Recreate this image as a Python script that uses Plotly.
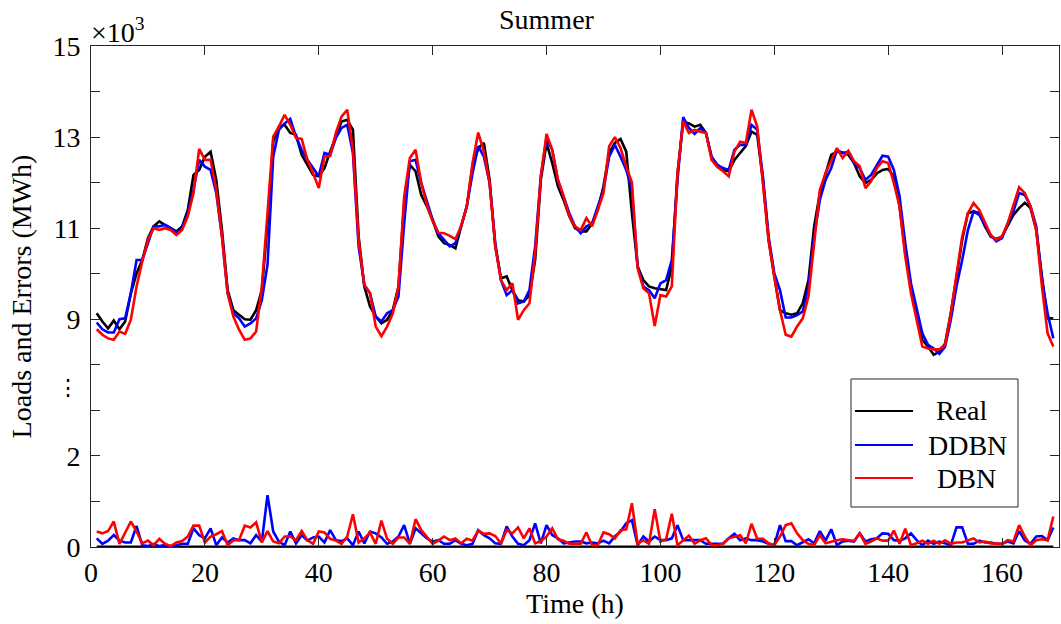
import plotly.graph_objects as go

# ---------------- data (thousands of MWh) ----------------
hours = list(range(1, 170))

real = [9.13, 8.95, 8.80, 8.97, 8.78, 8.95, 9.57, 10.01, 10.30, 10.78,
        11.04, 11.15, 11.07, 11.00, 10.93, 11.04, 11.40, 12.17, 12.28, 12.57,
        12.68, 12.06, 10.96, 9.64, 9.20, 9.10, 9.00, 8.99, 9.20, 9.64,
        11.10, 12.90, 13.23, 13.27, 13.09, 13.05, 12.61, 12.39, 12.17, 12.14,
        12.32, 12.68, 13.01, 13.34, 13.38, 13.16, 10.82, 9.72, 9.28, 9.06,
        8.91, 8.99, 9.20, 9.72, 11.55, 12.39, 12.25, 11.73, 11.48, 11.18,
        10.82, 10.67, 10.63, 10.56, 11.04, 11.48, 12.35, 12.76, 12.87, 12.06,
        10.60, 9.90, 9.94, 9.64, 9.42, 9.39, 9.53, 10.30, 12.06, 12.87,
        12.43, 11.92, 11.62, 11.26, 11.00, 10.93, 10.93, 11.10, 11.40, 11.92,
        12.65, 12.87, 12.96, 12.68, 11.33, 10.16, 9.86, 9.72, 9.68, 9.66,
        9.64, 10.16, 12.20, 13.34, 13.30, 13.23, 13.27, 13.09, 12.54, 12.39,
        12.28, 12.25, 12.50, 12.65, 12.80, 13.12, 13.05, 12.06, 10.74, 9.94,
        9.20, 9.13, 9.10, 9.13, 9.35, 9.86, 11.04, 11.77, 12.20, 12.61,
        12.68, 12.66, 12.61, 12.43, 12.14, 11.99, 12.06, 12.20, 12.28, 12.30,
        12.14, 11.48, 10.45, 9.72, 9.13, 8.55, 8.40, 8.22, 8.29, 8.47,
        9.13, 9.94, 10.74, 11.33, 11.37, 11.33, 11.04, 10.82, 10.76, 10.82,
        11.04, 11.29, 11.44, 11.56, 11.44, 10.96, 9.94, 9.02, 9.02]

ddbn = [8.93, 8.78, 8.71, 8.71, 9.00, 9.02, 9.57, 10.30, 10.30, 10.67,
        11.04, 11.04, 11.07, 11.00, 10.89, 11.00, 11.33, 11.84, 12.50, 12.35,
        12.28, 11.77, 10.82, 9.57, 9.13, 9.02, 8.84, 8.91, 9.02, 9.42,
        10.20, 12.57, 13.16, 13.30, 13.40, 13.01, 12.72, 12.50, 12.32, 12.14,
        12.65, 12.61, 12.98, 13.20, 13.27, 12.65, 10.60, 9.75, 9.57, 9.06,
        8.95, 9.13, 9.20, 9.50, 11.10, 12.47, 12.50, 11.99, 11.59, 11.18,
        10.89, 10.74, 10.60, 10.67, 11.04, 11.48, 12.20, 12.80, 12.57, 11.99,
        10.67, 9.86, 9.53, 9.64, 9.35, 9.39, 9.64, 10.60, 12.14, 12.98,
        12.72, 12.06, 11.70, 11.33, 11.04, 10.89, 11.04, 11.10, 11.48, 11.84,
        12.57, 12.83, 12.57, 12.28, 11.84, 10.16, 9.72, 9.64, 9.46, 9.79,
        9.86, 10.30, 12.06, 13.44, 13.20, 13.07, 13.20, 13.09, 12.57, 12.39,
        12.32, 12.28, 12.72, 12.83, 12.83, 13.27, 13.16, 12.14, 10.82, 10.01,
        9.64, 9.04, 9.04, 9.09, 9.17, 9.72, 10.82, 11.62, 12.06, 12.32,
        12.72, 12.65, 12.68, 12.43, 12.32, 12.06, 12.17, 12.39, 12.59, 12.57,
        12.28, 11.70, 10.67, 9.79, 9.20, 8.69, 8.44, 8.36, 8.24, 8.40,
        8.99, 9.72, 10.30, 10.96, 11.37, 11.29, 11.07, 10.85, 10.71, 10.78,
        11.11, 11.37, 11.77, 11.73, 11.48, 11.04, 9.86, 9.13, 8.58]

dbn = [8.78, 8.66, 8.58, 8.55, 8.73, 8.68, 8.99, 9.72, 10.27, 10.74,
       11.00, 10.96, 11.00, 10.96, 10.85, 10.96, 11.26, 11.77, 12.74, 12.50,
       12.50, 11.84, 10.82, 9.57, 9.06, 8.77, 8.55, 8.58, 8.73, 9.72,
       11.33, 13.01, 13.23, 13.49, 13.27, 12.98, 12.96, 12.50, 12.21, 11.88,
       12.57, 12.59, 13.09, 13.45, 13.60, 12.72, 10.74, 9.75, 9.57, 8.84,
       8.63, 8.84, 9.13, 9.72, 11.70, 12.54, 12.72, 11.99, 11.51, 11.15,
       10.90, 10.89, 10.83, 10.76, 11.04, 11.48, 12.43, 13.10, 12.68, 11.99,
       10.60, 9.86, 9.64, 9.79, 8.99, 9.20, 9.35, 10.45, 12.14, 13.07,
       12.72, 12.06, 11.70, 11.26, 11.04, 10.96, 11.22, 11.04, 11.40, 11.77,
       12.80, 13.00, 12.76, 12.35, 12.00, 10.12, 9.68, 9.57, 8.85, 9.53,
       9.50, 9.72, 12.20, 13.35, 13.09, 13.16, 13.12, 13.09, 12.50, 12.34,
       12.25, 12.14, 12.68, 12.90, 12.87, 13.60, 13.23, 11.92, 10.74, 9.94,
       9.20, 8.66, 8.62, 8.84, 9.02, 9.50, 10.74, 11.84, 12.21, 12.50,
       12.76, 12.54, 12.70, 12.47, 12.36, 11.88, 12.03, 12.32, 12.47, 12.43,
       11.99, 11.48, 10.38, 9.57, 8.99, 8.40, 8.36, 8.34, 8.34, 8.44,
       9.13, 9.94, 10.82, 11.33, 11.55, 11.40, 11.11, 10.85, 10.74, 10.82,
       11.11, 11.48, 11.90, 11.77, 11.48, 10.96, 9.72, 8.69, 8.40]

err_real = [0.0] * 169

err_ddbn = [.19, .07, .14, .26, .14, .10, .10, .46, .04, .02,
            .07, .02, .04, .02, .04, .07, .07, .41, .26, .19,
            .41, .04, .21, .10, .19, .15, .15, .08, .26, .12,
            1.14, .34, .12, .04, .34, .08, .26, .14, .21, .23,
            .10, .37, .15, .13, .19, .04, .34, .08, .34, .30,
            .21, .07, .12, .23, .48, .07, .41, .30, .19, .12,
            .15, .07, .07, .15, .07, .04, .07, .37, .26, .19,
            .08, .07, .45, .23, .07, .04, .15, .52, .08, .48,
            .26, .19, .08, .10, .12, .12, .08, .10, .08, .14,
            .08, .23, .34, .52, .59, .04, .23, .12, .23, .15,
            .15, .19, .48, .15, .15, .14, .15, .07, .07, .07,
            .07, .19, .29, .15, .19, .15, .15, .12, .07, .04,
            .48, .13, .13, .04, .10, .17, .08, .35, .14, .39,
            .04, .12, .14, .12, .30, .12, .17, .19, .30, .29,
            .15, .14, .19, .30, .15, .04, .14, .07, .12, .08,
            .04, .43, .43, .07, .07, .14, .10, .10, .07, .07,
            .12, .08, .35, .14, .07, .23, .24, .15, .43]

err_dbn = [.34, .30, .35, .56, .07, .30, .56, .34, .08, .14,
           .04, .18, .07, .02, .10, .13, .23, .47, .47, .10,
           .23, .28, .35, .04, .15, .15, .47, .43, .54, .10,
           .35, .12, .08, .23, .23, .15, .35, .15, .07, .34,
           .32, .18, .14, .07, .23, .72, .10, .19, .32, .07,
           .58, .18, .07, .21, .21, .07, .61, .37, .21, .07,
           .14, .23, .15, .19, .08, .18, .14, .36, .29, .30,
           .24, .08, .37, .30, .43, .19, .41, .08, .13, .23,
           .41, .17, .14, .07, .07, .07, .32, .04, .04, .32,
           .28, .19, .37, .39, .96, .07, .15, .07, .83, .12,
           .17, .73, .04, .15, .25, .07, .15, .19, .04, .04,
           .07, .19, .23, .26, .08, .51, .18, .18, .08, .04,
           .23, .48, .52, .30, .15, .07, .04, .26, .08, .12,
           .15, .17, .15, .13, .30, .07, .12, .19, .14, .14,
           .36, .07, .40, .04, .08, .14, .07, .14, .07, .15,
           .07, .10, .10, .15, .19, .10, .12, .08, .07, .07,
           .15, .12, .48, .23, .04, .15, .17, .15, .67]

series_names = ["Real", "DDBN", "DBN"]
series_colors = ["#000000", "#0000FF", "#FF0000"]
x_ticks = [0, 20, 40, 60, 80, 100, 120, 140, 160]
# broken y axis: 0..2 shown as is, 9..15 shifted down by GAP
GAP = 4
y_tick_pos = list(range(0, 12))
y_tick_text = ["0", "", "2", "", "", "9", "", "11", "", "13", "", "15"]


def upper(vals):
    return [v - GAP for v in vals]


FONT = "Liberation Serif"
FS = 28
fig = go.Figure()

loads = [real, ddbn, dbn]
errs = [err_real, err_ddbn, err_dbn]
for name, col, vals in zip(series_names, series_colors, loads):
    fig.add_trace(go.Scatter(x=hours, y=upper(vals), mode="lines", name=name,
                             line=dict(color=col, width=2.6), showlegend=False))
for name, col, vals in zip(series_names, series_colors, errs):
    fig.add_trace(go.Scatter(x=hours, y=vals, mode="lines", name=name + " error",
                             line=dict(color=col, width=2.6 if name != "Real" else 3.2),
                             showlegend=False))

# plot area in pixels
L, R, T, B = 91, 1059, 46, 547
W, H = R - L, B - T


def px(x):
    return (x - L) / W


def py(y):
    return (B - y) / H


axis_common = dict(showline=True, linecolor="#262626", linewidth=1, mirror="ticks",
                   ticks="inside", ticklen=9, tickcolor="#262626", showgrid=False,
                   zeroline=False, tickfont=dict(family=FONT, size=FS, color="black"))

fig.update_layout(
    width=1061, height=624,
    margin=dict(l=L, r=1061 - R, t=T, b=624 - B),
    paper_bgcolor="white", plot_bgcolor="white",
    font=dict(family=FONT, color="black"),
    xaxis=dict(range=[0, 170], tickvals=x_ticks, **axis_common,
               title=dict(text="Time (h)", font=dict(family=FONT, size=FS, color="black"),
                          standoff=6)),
    yaxis=dict(range=[0, 11], tickvals=y_tick_pos, ticktext=y_tick_text, **axis_common,
               ticklabelstandoff=4,
               title=dict(text="Loads and Errors (MWh)",
                          font=dict(family=FONT, size=FS, color="black"), standoff=12)),
    showlegend=False,
)

annotations = [
    dict(text="Summer", x=px(547), y=py(20), xref="paper", yref="paper",
         showarrow=False, font=dict(family=FONT, size=FS, color="black"),
         xanchor="center", yanchor="middle"),
    dict(text="×10<sup>3</sup>", x=px(89), y=py(30), xref="paper", yref="paper",
         showarrow=False, font=dict(family=FONT, size=FS, color="black"),
         xanchor="left", yanchor="middle"),
    dict(text="⋮", x=px(68), y=3.5, xref="paper", yref="y", showarrow=False,
         font=dict(family="DejaVu Serif", size=22, color="black"),
         xanchor="center", yanchor="middle"),
]

# manual legend box
shapes = [dict(type="rect", xref="paper", yref="paper", x0=px(851), x1=px(1018),
               y0=py(507), y1=py(379), line=dict(color="#262626", width=1),
               fillcolor="white", layer="above")]
leg_y = [411, 445, 478]
leg_x = [962, 967, 966]
for name, col, yy, xx in zip(series_names, series_colors, leg_y, leg_x):
    shapes.append(dict(type="line", xref="paper", yref="paper", x0=px(855), x1=px(913),
                       y0=py(yy), y1=py(yy), line=dict(color=col, width=2), layer="above"))
    annotations.append(dict(text=name, x=px(xx), y=py(yy), xref="paper", yref="paper",
                            showarrow=False, xanchor="center", yanchor="middle",
                            font=dict(family=FONT, size=FS, color="black")))

fig.update_layout(shapes=shapes, annotations=annotations)
fig.write_html("out.html")
